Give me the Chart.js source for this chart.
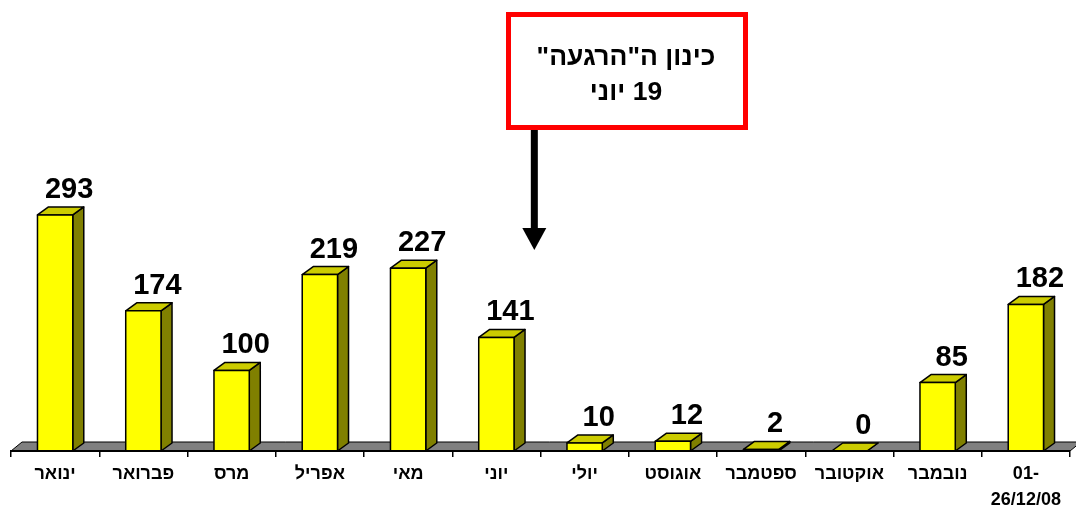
<!DOCTYPE html>
<html>
<head>
<meta charset="utf-8">
<script src="https://cdn.jsdelivr.net/npm/chart.js@4"></script>
<style>
html, body { margin: 0; padding: 0; background: #fff; }
#wrap { width: 1076px; height: 509px; position: relative; }
</style>
</head>
<body>
<div id="wrap"><canvas id="chart"></canvas></div>
<script>
// data
const months = ['ינואר', 'פברואר', 'מרס', 'אפריל', 'מאי', 'יוני', 'יולי', 'אוגוסט', 'ספטמבר', 'אוקטובר', 'נובמבר', ['01-', '26/12/08']];
const attacks = [293, 174, 100, 219, 227, 141, 10, 12, 2, 0, 85, 182];
const calloutLines = ['כינון ה"הרגעה"', '19 יוני'];
const calloutAt = 5.43; // 19 June, just before the June/July boundary

const FONT = 'Arial, "Liberation Sans", "DejaVu Sans", sans-serif';
const DX = 11, DY = 8;

const bars3d = {
    id: 'bars3d',
    afterDatasetsDraw(chart) {
        const ctx = chart.ctx;
        const area = chart.chartArea;
        const meta = chart.getDatasetMeta(0);

        // grey floor
        ctx.save();
        ctx.beginPath();
        ctx.moveTo(area.left, area.bottom);
        ctx.lineTo(area.left + DX, area.bottom - 9);
        ctx.lineTo(area.right + DX, area.bottom - 9);
        ctx.lineTo(area.right, area.bottom);
        ctx.closePath();
        ctx.fillStyle = '#808080';
        ctx.fill();
        ctx.lineWidth = 1;
        ctx.strokeStyle = '#000';
        ctx.stroke();

        ctx.lineJoin = 'round';
        meta.data.forEach((bar, i) => {
            const w = bar.width;
            const x1 = bar.x - w / 2;
            const x2 = x1 + w;
            const top = bar.y;
            const base = bar.base;
            ctx.lineWidth = 1.5;
            ctx.strokeStyle = '#000';

            // side
            ctx.beginPath();
            ctx.moveTo(x2, base);
            ctx.lineTo(x2 + DX, base - DY);
            ctx.lineTo(x2 + DX, top - DY);
            ctx.lineTo(x2, top);
            ctx.closePath();
            ctx.fillStyle = '#808000';
            ctx.fill();
            ctx.stroke();

            // top
            ctx.beginPath();
            ctx.moveTo(x1, top);
            ctx.lineTo(x1 + DX, top - DY);
            ctx.lineTo(x2 + DX, top - DY);
            ctx.lineTo(x2, top);
            ctx.closePath();
            ctx.fillStyle = '#CCCC00';
            ctx.fill();
            ctx.stroke();

            // front
            if (base - top > 0) {
                ctx.fillStyle = '#FFFF00';
                ctx.fillRect(x1, top, w, base - top);
                ctx.strokeRect(x1, top, w, base - top);
            }

            // value label
            ctx.fillStyle = '#000';
            ctx.font = 'bold 29px ' + FONT;
            ctx.textAlign = 'center';
            ctx.textBaseline = 'alphabetic';
            ctx.fillText(String(attacks[i]), bar.x + 14, top - 17);
        });

        // front axis line
        ctx.beginPath();
        ctx.moveTo(area.left, area.bottom);
        ctx.lineTo(area.right, area.bottom);
        ctx.lineWidth = 2;
        ctx.strokeStyle = '#000';
        ctx.stroke();
        ctx.restore();
    },
    afterDraw(chart) {
        const ctx = chart.ctx;
        const ax = chart.scales.x.getPixelForValue(calloutAt);
        const bx = 506; // box left edge
        ctx.save();

        // callout box
        ctx.fillStyle = '#fff';
        ctx.fillRect(bx + 2.5, 14.5, 237, 113);
        ctx.lineWidth = 5;
        ctx.strokeStyle = '#FF0000';
        ctx.strokeRect(bx + 2.5, 14.5, 237, 113);

        ctx.fillStyle = '#000';
        ctx.font = 'bold 26.5px ' + FONT;
        ctx.direction = 'rtl';
        ctx.textAlign = 'center';
        ctx.textBaseline = 'middle';
        ctx.fillText(calloutLines[0], bx + 120, 58);
        ctx.fillText(calloutLines[1], bx + 120, 93);

        // arrow
        ctx.fillRect(ax - 3.5, 130, 7, 99);
        ctx.beginPath();
        ctx.moveTo(ax - 12, 228);
        ctx.lineTo(ax + 12, 228);
        ctx.lineTo(ax, 250);
        ctx.closePath();
        ctx.fill();
        ctx.restore();
    }
};

new Chart(document.getElementById('chart'), {
    type: 'bar',
    data: {
        labels: months,
        datasets: [{
            data: attacks,
            backgroundColor: 'rgba(0,0,0,0)',
            borderWidth: 0,
            barPercentage: 0.8,
            categoryPercentage: 0.5
        }]
    },
    options: {
        responsive: true,
        maintainAspectRatio: false,
        animation: false,
        layout: { padding: { left: 11, right: 6, top: 20, bottom: 0 } },
        plugins: {
            legend: { display: false },
            tooltip: { enabled: false }
        },
        scales: {
            x: {
                afterFit: s => { s.height = 58; },
                grid: {
                    offset: true,
                    drawOnChartArea: false,
                    drawTicks: true,
                    tickLength: 6,
                    color: '#000',
                    lineWidth: 1.5
                },
                border: { display: true, color: '#000', width: 2 },
                ticks: {
                    color: '#000',
                    font: { family: FONT, size: 18, weight: 'bold', lineHeight: 1.45 },
                    padding: 4,
                    autoSkip: false,
                    maxRotation: 0
                }
            },
            y: {
                display: false,
                min: 0,
                max: 535
            }
        }
    },
    plugins: [bars3d]
});
</script>
</body>
</html>
